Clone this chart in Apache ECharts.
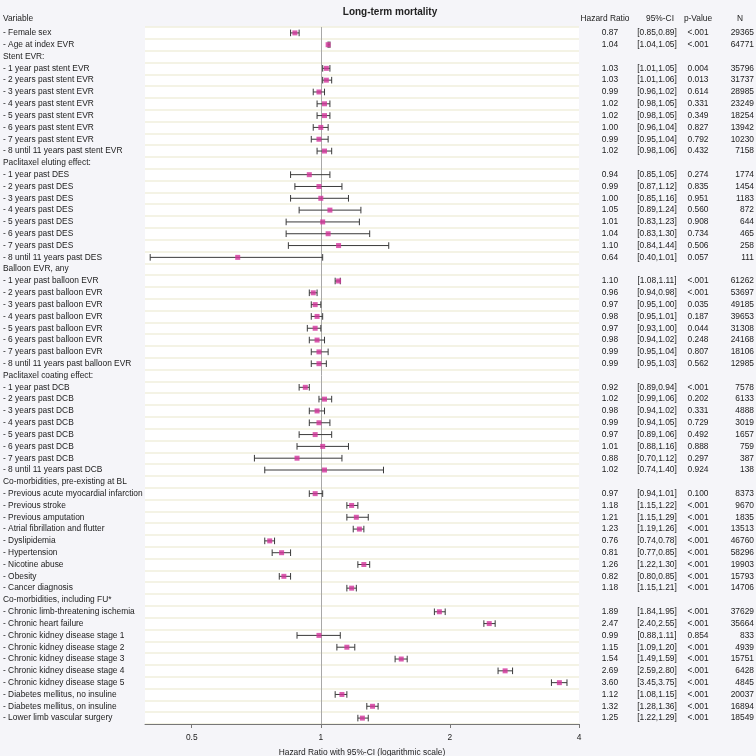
<!DOCTYPE html>
<html><head><meta charset="utf-8">
<script src="https://cdn.jsdelivr.net/npm/echarts@6.0.0/dist/echarts.min.js"></script>
<style>html,body{margin:0;padding:0;background:#f5f5f9;}#c{width:756px;height:756px;}</style>
</head><body><div id="c"></div>
<script>
const labels = [
"- Female sex","- Age at index EVR","Stent EVR:",
"- 1 year past stent EVR","- 2 years past stent EVR","- 3 years past stent EVR","- 4 years past stent EVR","- 5 years past stent EVR","- 6 years past stent EVR","- 7 years past stent EVR","- 8 until 11 years past stent EVR",
"Paclitaxel eluting effect:",
"- 1 year past DES","- 2 years past DES","- 3 years past DES","- 4 years past DES","- 5 years past DES","- 6 years past DES","- 7 years past DES","- 8 until 11 years past DES",
"Balloon EVR, any",
"- 1 year past balloon EVR","- 2 years past balloon EVR","- 3 years past balloon EVR","- 4 years past balloon EVR","- 5 years past balloon EVR","- 6 years past balloon EVR","- 7 years past balloon EVR","- 8 until 11 years past balloon EVR",
"Paclitaxel coating effect:",
"- 1 year past DCB","- 2 years past DCB","- 3 years past DCB","- 4 years past DCB","- 5 years past DCB","- 6 years past DCB","- 7 years past DCB","- 8 until 11 years past DCB",
"Co-morbidities, pre-existing at BL",
"- Previous acute myocardial infarction","- Previous stroke","- Previous amputation","- Atrial fibrillation and flutter","- Dyslipidemia","- Hypertension","- Nicotine abuse","- Obesity","- Cancer diagnosis",
"Co-morbidities, including FU*",
"- Chronic limb-threatening ischemia","- Chronic heart failure","- Chronic kidney disease stage 1","- Chronic kidney disease stage 2","- Chronic kidney disease stage 3","- Chronic kidney disease stage 4","- Chronic kidney disease stage 5","- Diabetes mellitus, no insuline","- Diabetes mellitus, on insuline","- Lower limb vascular surgery"
];
const hr = [0.87,1.04,null, 1.03,1.03,0.99,1.02,1.02,1.00,0.99,1.02, null, 0.94,0.99,1.00,1.05,1.01,1.04,1.10,0.64, null, 1.10,0.96,0.97,0.98,0.97,0.98,0.99,0.99, null, 0.92,1.02,0.98,0.99,0.97,1.01,0.88,1.02, null, 0.97,1.18,1.21,1.23,0.76,0.81,1.26,0.82,1.18, null, 1.89,2.47,0.99,1.15,1.54,2.69,3.60,1.12,1.32,1.25];
const lower = [0.85,1.04,null, 1.01,1.01,0.96,0.98,0.98,0.96,0.95,0.98, null, 0.85,0.87,0.85,0.89,0.83,0.83,0.84,0.40, null, 1.08,0.94,0.95,0.95,0.93,0.94,0.95,0.95, null, 0.89,0.99,0.94,0.94,0.89,0.88,0.70,0.74, null, 0.94,1.15,1.15,1.19,0.74,0.77,1.22,0.80,1.15, null, 1.84,2.40,0.88,1.09,1.49,2.59,3.45,1.08,1.28,1.22];
const upper = [0.89,1.05,null, 1.05,1.06,1.02,1.05,1.05,1.04,1.04,1.06, null, 1.05,1.12,1.16,1.24,1.23,1.30,1.44,1.01, null, 1.11,0.98,1.00,1.01,1.00,1.02,1.04,1.03, null, 0.94,1.06,1.02,1.05,1.06,1.16,1.12,1.40, null, 1.01,1.22,1.29,1.26,0.78,0.85,1.30,0.85,1.21, null, 1.95,2.55,1.11,1.20,1.59,2.80,3.75,1.15,1.36,1.29];
const pValues = ["<.001","<.001","", "0.004","0.013","0.614","0.331","0.349","0.827","0.792","0.432", "", "0.274","0.835","0.951","0.560","0.908","0.734","0.506","0.057", "", "<.001","<.001","0.035","0.187","0.044","0.248","0.807","0.562", "", "<.001","0.202","0.331","0.729","0.492","0.888","0.297","0.924", "", "0.100","<.001","<.001","<.001","<.001","<.001","<.001","<.001","<.001", "", "<.001","<.001","0.854","<.001","<.001","<.001","<.001","<.001","<.001","<.001"];
const nValues = [29365,64771,null, 35796,31737,28985,23249,18254,13942,10230,7158, null, 1774,1454,1183,872,644,465,258,111, null, 61262,53697,49185,39653,31308,24168,18106,12985, null, 7578,6133,4888,3019,1657,759,387,138, null, 8373,9670,1835,13513,46760,58296,19903,15793,14706, null, 37629,35664,833,4939,15751,6428,4845,20037,16894,18549];
const xTicks = [0.5, 1, 2, 4];
const columnHeaders = ["Variable", "Hazard Ratio", "95%-CI", "p-Value", "N"];

const FONT = "'Liberation Sans',Arial,sans-serif";
const FS = 8.4;
const TXT = '#222';
const hrText = hr.map(v => v == null ? '' : v.toFixed(2));
const ciText = hr.map((v, i) => v == null ? '' : '[' + lower[i].toFixed(2) + ',' + upper[i].toFixed(2) + ']');
const nText = nValues.map(v => v == null ? '' : String(v));
const barData = [], pointData = [];
hr.forEach((v, i) => { if (v != null) { barData.push([i, lower[i], upper[i]]); pointData.push([v, i]); } });

function sideAxis(data, margin, align) {
  return { type: 'category', data: data, inverse: true, position: 'right', gridIndex: 0,
    axisLine: {show: false}, axisTick: {show: false}, splitLine: {show: false},
    axisLabel: {margin: margin, align: align, fontSize: FS, fontFamily: FONT, color: TXT, interval: 0} };
}
function header(text, x) {
  return {type: 'text', x: x, y: 19, style: {text: text, fontSize: FS, fontFamily: FONT, fill: TXT, align: 'center', verticalAlign: 'middle'}};
}

const chart = echarts.init(document.getElementById('c'), null, {renderer: 'canvas'});
chart.setOption({
  backgroundColor: '#f5f5f9',
  animation: false,
  title: { text: 'Long-term mortality', left: 385, top: 2, textAlign: 'center',
    textStyle: {fontSize: 10, fontWeight: 'bold', fontFamily: FONT, color: TXT} },
  graphic: [
    {type: 'text', x: 3, y: 19, style: {text: columnHeaders[0], fontSize: FS, fontFamily: FONT, fill: TXT, align: 'left', verticalAlign: 'middle'}},
    header(columnHeaders[1], 605),
    header(columnHeaders[2], 660),
    header(columnHeaders[3], 698),
    header(columnHeaders[4], 740)
  ],
  grid: { left: 145, right: 177, top: 27, bottom: 32, show: true, backgroundColor: '#ffffff', borderWidth: 0,
    containLabel: false, outerBoundsMode: 'none' },
  xAxis: {
    type: 'log', logBase: 2, min: 0.389, max: 4,
    name: 'Hazard Ratio with 95%-CI (logarithmic scale)', nameLocation: 'middle', nameGap: 25,
    nameTextStyle: {fontSize: FS, fontFamily: FONT, color: TXT},
    axisLine: {show: true, lineStyle: {color: '#777', width: 1}},
    axisTick: {show: true, length: 4, lineStyle: {color: '#777'}, customValues: xTicks},
    axisLabel: {fontSize: FS, fontFamily: FONT, color: TXT, margin: 10, customValues: xTicks,
      formatter: v => String(+(+v).toPrecision(6))},
    splitLine: {show: false}, minorTick: {show: false}
  },
  yAxis: [
    { type: 'category', data: labels, inverse: true, position: 'left',
      axisLine: {show: false}, axisTick: {show: false},
      splitLine: {show: true, lineStyle: {color: '#f1efdd', width: 1.5}},
      axisLabel: {margin: 142, align: 'left', fontSize: FS, fontFamily: FONT, color: TXT, interval: 0} },
    sideAxis(hrText, 31, 'center'),
    sideAxis(ciText, 78, 'center'),
    sideAxis(pValues, 119, 'center'),
    sideAxis(nText, 175, 'right')
  ],
  series: [
    { type: 'custom', yAxisIndex: 0, data: barData, encode: {x: [1, 2], y: 0}, z: 3,
      renderItem: function (params, api) {
        const idx = api.value(0);
        const p1 = api.coord([api.value(1), idx]);
        const p2 = api.coord([api.value(2), idx]);
        const h = 3.3;
        const st = {stroke: '#3a3a3a', lineWidth: 1};
        return {type: 'group', children: [
          {type: 'line', shape: {x1: p1[0], y1: p1[1], x2: p2[0], y2: p2[1]}, style: st},
          {type: 'line', shape: {x1: p1[0], y1: p1[1] - h, x2: p1[0], y2: p1[1] + h}, style: st},
          {type: 'line', shape: {x1: p2[0], y1: p2[1] - h, x2: p2[0], y2: p2[1] + h}, style: st}
        ]};
      },
      markLine: { silent: true, symbol: 'none', z: 1, label: {show: false},
        lineStyle: {color: '#a8a8a8', width: 1, type: 'solid'}, data: [{xAxis: 1}] }
    },
    { type: 'scatter', yAxisIndex: 0, data: pointData, symbol: 'rect', symbolSize: 5, z: 4,
      itemStyle: {color: '#d2339a'} }
  ]
});
</script></body></html>
